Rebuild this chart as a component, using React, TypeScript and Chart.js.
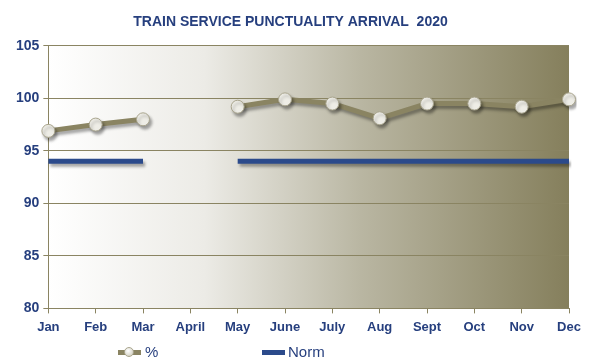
import React, { useEffect, useRef } from "react";
import { Chart, registerables } from "chart.js";

Chart.register(...registerables);

const months = ["Jan", "Feb", "Mar", "April", "May", "June", "July", "Aug", "Sept", "Oct", "Nov", "Dec"];
const punctuality: (number | null)[] = [96.9, 97.5, 98.0, null, 99.2, 99.9, 99.5, 98.1, 99.5, 99.5, 99.2, 99.9];
const norm: (number | null)[] = [94, 94, 94, null, 94, 94, 94, 94, 94, 94, 94, 94];
const yTicks = [80, 85, 90, 95, 100, 105];
const seriesNames = ["%", "Norm"];

const OLIVE = "#8a8462";
const BLUE = "#2b4a8b";
const TEXT = "#263f7e";

const bgPlugin = {
  id: "bgGradient",
  beforeDraw(chart: any) {
    const { ctx, chartArea } = chart;
    if (!chartArea) return;
    const g = ctx.createLinearGradient(chartArea.left, 0, chartArea.right, 0);
    g.addColorStop(0, "#ffffff");
    g.addColorStop(0.3, "#ecebe6");
    g.addColorStop(0.6, "#b9b6a2");
    g.addColorStop(1, "#857f5c");
    ctx.save();
    ctx.fillStyle = g;
    ctx.fillRect(chartArea.left, chartArea.top, chartArea.right - chartArea.left, chartArea.bottom - chartArea.top);
    ctx.restore();
  },
  beforeDatasetsDraw(chart: any) {
    const ctx = chart.ctx;
    ctx.save();
    ctx.shadowColor = "rgba(0,0,0,0.35)";
    ctx.shadowBlur = 3;
    ctx.shadowOffsetX = 2;
    ctx.shadowOffsetY = 3;
  },
  afterDatasetsDraw(chart: any) {
    chart.ctx.restore();
  },
};

export default function App() {
  const ref = useRef<HTMLCanvasElement | null>(null);
  useEffect(() => {
    document.body.style.margin = "0";
    const canvas = ref.current!;
    const chart = new Chart(canvas, {
      type: "line",
      data: {
        labels: months,
        datasets: [
          {
            label: seriesNames[0],
            data: punctuality,
            borderColor: OLIVE,
            borderWidth: 5,
            backgroundColor: "#e6e4da",
            pointBackgroundColor: "#eeede6",
            pointBorderColor: "#a9a58e",
            pointBorderWidth: 1,
            pointRadius: 6.5,
            spanGaps: false,
            order: 1,
          },
          {
            label: seriesNames[1],
            data: norm,
            borderColor: BLUE,
            backgroundColor: BLUE,
            borderWidth: 5,
            pointRadius: 0,
            borderCapStyle: "butt",
            spanGaps: false,
            order: 2,
          },
        ],
      },
      options: {
        responsive: false,
        animation: false,
        layout: { padding: { left: 12, right: 20, top: 0, bottom: 23 } },
        plugins: {
          title: {
            display: true,
            text: "TRAIN SERVICE PUNCTUALITY ARRIVAL  2020",
            color: TEXT,
            font: { family: "Liberation Sans", size: 14, weight: "bold" },
            padding: { top: 14, bottom: 15 },
          },
          legend: { display: false },
          tooltip: { enabled: false },
        },
        scales: {
          x: {
            offset: false,
            grid: {
              display: true,
              drawOnChartArea: false,
              drawTicks: true,
              tickLength: 5,
              color: OLIVE,
            },
            border: { color: OLIVE, width: 1 },
            ticks: {
              color: TEXT,
              font: { family: "Liberation Sans", size: 13, weight: "bold" },
              maxRotation: 0,
              autoSkip: false,
              padding: 6,
            },
          },
          y: {
            min: 80,
            max: 105,
            afterBuildTicks: (axis: any) => {
              axis.ticks = yTicks.map((v) => ({ value: v }));
            },
            grid: {
              color: OLIVE,
              tickLength: 5,
              lineWidth: 1,
            },
            border: { color: OLIVE, width: 1 },
            ticks: {
              color: TEXT,
              font: { family: "Liberation Sans", size: 14, weight: "bold" },
              padding: 4,
            },
          },
        },
      },
      plugins: [bgPlugin],
    });
    return () => chart.destroy();
  }, []);

  const legendText: React.CSSProperties = {
    position: "absolute",
    top: 343,
    fontFamily: "Liberation Sans",
    fontSize: 15,
    lineHeight: "18px",
    color: TEXT,
  };
  return (
    <div style={{ width: 589, height: 364, position: "relative" }}>
      <canvas ref={ref} width={589} height={364} />
      <div style={{ position: "absolute", left: 118, top: 350, width: 23, height: 5, background: OLIVE }} />
      <div
        style={{
          position: "absolute",
          left: 124,
          top: 347,
          width: 10,
          height: 10,
          borderRadius: "50%",
          background: "radial-gradient(circle at 40% 35%, #ffffff, #c9c6b4)",
          border: "1px solid #a9a58e",
          boxSizing: "border-box",
        }}
      />
      <div style={{ ...legendText, left: 145 }}>{seriesNames[0]}</div>
      <div style={{ position: "absolute", left: 262, top: 350, width: 23, height: 5, background: BLUE }} />
      <div style={{ ...legendText, left: 288 }}>{seriesNames[1]}</div>
    </div>
  );
}
